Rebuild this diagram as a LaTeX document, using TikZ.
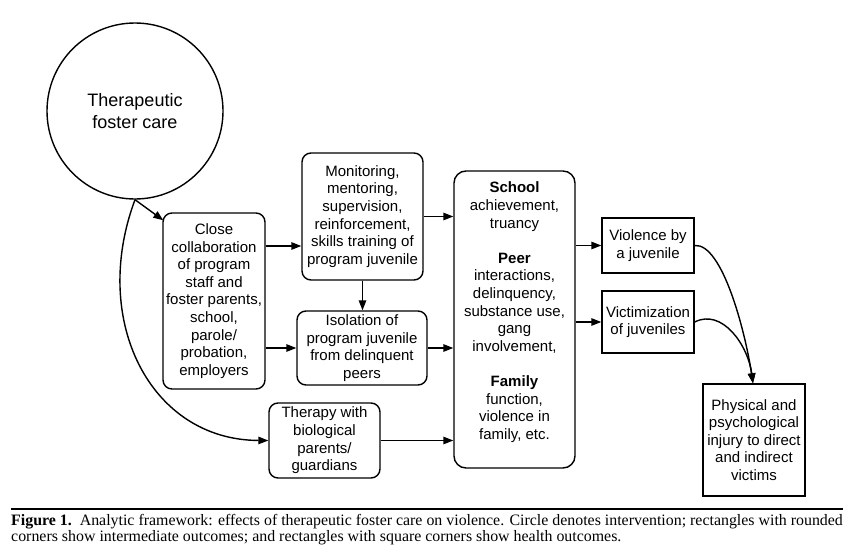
\documentclass[tikz,border=0pt]{standalone}
\usepackage{fontspec}
\setmainfont{Liberation Sans}
\newfontfamily\capfont{Liberation Serif}
\usetikzlibrary{arrows.meta,calc}
\begin{document}
\begin{tikzpicture}[x=1pt,y=-1pt,
  every node/.style={inner sep=0pt, align=center},
  txt/.style={font=\fontsize{15}{17.6}\selectfont},
  rbox/.style={draw, line width=1.4pt, rounded corners=9pt, txt},
  sbox/.style={draw, line width=1.4pt, txt},
  arr/.style={line width=1.4pt, -{Triangle[length=10pt,width=7.5pt]}},
]
\useasboundingbox (0,0) rectangle (852,552);
\fill[white] (0,0) rectangle (852,552);

\node[draw, circle, line width=1.4pt, minimum size=176pt,
      font=\fontsize{18}{22}\selectfont] (circ) at (135,111) {Therapeutic\\foster care};

\node[rbox, minimum width=102pt, minimum height=176pt] (close) at (214,301)
  {Close\\collaboration\\of program\\staff and\\foster parents,\\school,\\parole/\\probation,\\employers};
\node[rbox, minimum width=121pt, minimum height=127pt] (mon) at (362.5,216.5)
  {Monitoring,\\mentoring,\\supervision,\\reinforcement,\\skills training of\\program juvenile};
\node[rbox, minimum width=130pt, minimum height=74pt] (iso) at (362,348)
  {Isolation of\\program juvenile\\from delinquent\\peers};
\node[rbox, minimum width=111pt, minimum height=75pt] (ther) at (324.5,440.5)
  {Therapy with\\biological\\parents/\\guardians};
\node[rbox, rounded corners=12pt, minimum width=121pt, minimum height=297pt] (big) at (514.5,319.5)
  {\textbf{School}\\achievement,\\truancy\\[17.6pt]\textbf{Peer}\\interactions,\\delinquency,\\substance use,\\gang\\involvement,\\[17.6pt]\textbf{Family}\\function,\\violence in\\family, etc.\\ \mbox{}};
\node[sbox, minimum width=92pt, minimum height=55pt] (viol) at (648,245.5)
  {Violence by\\a juvenile};
\node[sbox, minimum width=92pt, minimum height=62pt] (vict) at (648,322)
  {Victimization\\of juveniles};
\node[sbox, minimum width=102pt, minimum height=112pt] (phys) at (754,440)
  {Physical and\\psychological\\injury to direct\\and indirect\\victims};

% connectors
\draw[arr] (circ.south) -- ($(close.north west)+(1,8)$);
\draw[arr] (circ.south) .. controls (90,320) and (150,440) .. (ther.west);
\draw[arr] (close.east |- 0,246) -- (mon.west |- 0,246);
\draw[arr] (close.east |- iso.west) -- (iso.west);
\draw[arr] (mon.south) -- (mon.south |- iso.north);
\draw[arr] (mon.east) -- (big.west |- mon.east);
\draw[arr] (iso.east) -- (big.west |- iso.east);
\draw[arr] (ther.east) -- (big.west |- ther.east);
\draw[arr] (big.east |- viol.west) -- (viol.west);
\draw[arr] (big.east |- vict.west) -- (vict.west);
\coordinate (pin) at ($(phys.north)+(-1,0)$);
\draw[arr] (viol.east) .. controls (722,243) and (745,330) .. (pin);
\draw[arr] (vict.east) .. controls (722,308) and (748,345) .. (pin);

% caption
\draw[line width=2.2pt] (11,509) -- (843,509);
\node[anchor=north west, align=left, font=\capfont\fontsize{15.9}{16}\selectfont] (cap) at (11,514)
  {\textbf{Figure 1.}\ \ Analytic framework: effects of therapeutic foster care on violence. Circle denotes intervention; rectangles with rounded\\
   corners show intermediate outcomes; and rectangles with square corners show health outcomes.};
\end{tikzpicture}
\end{document}
